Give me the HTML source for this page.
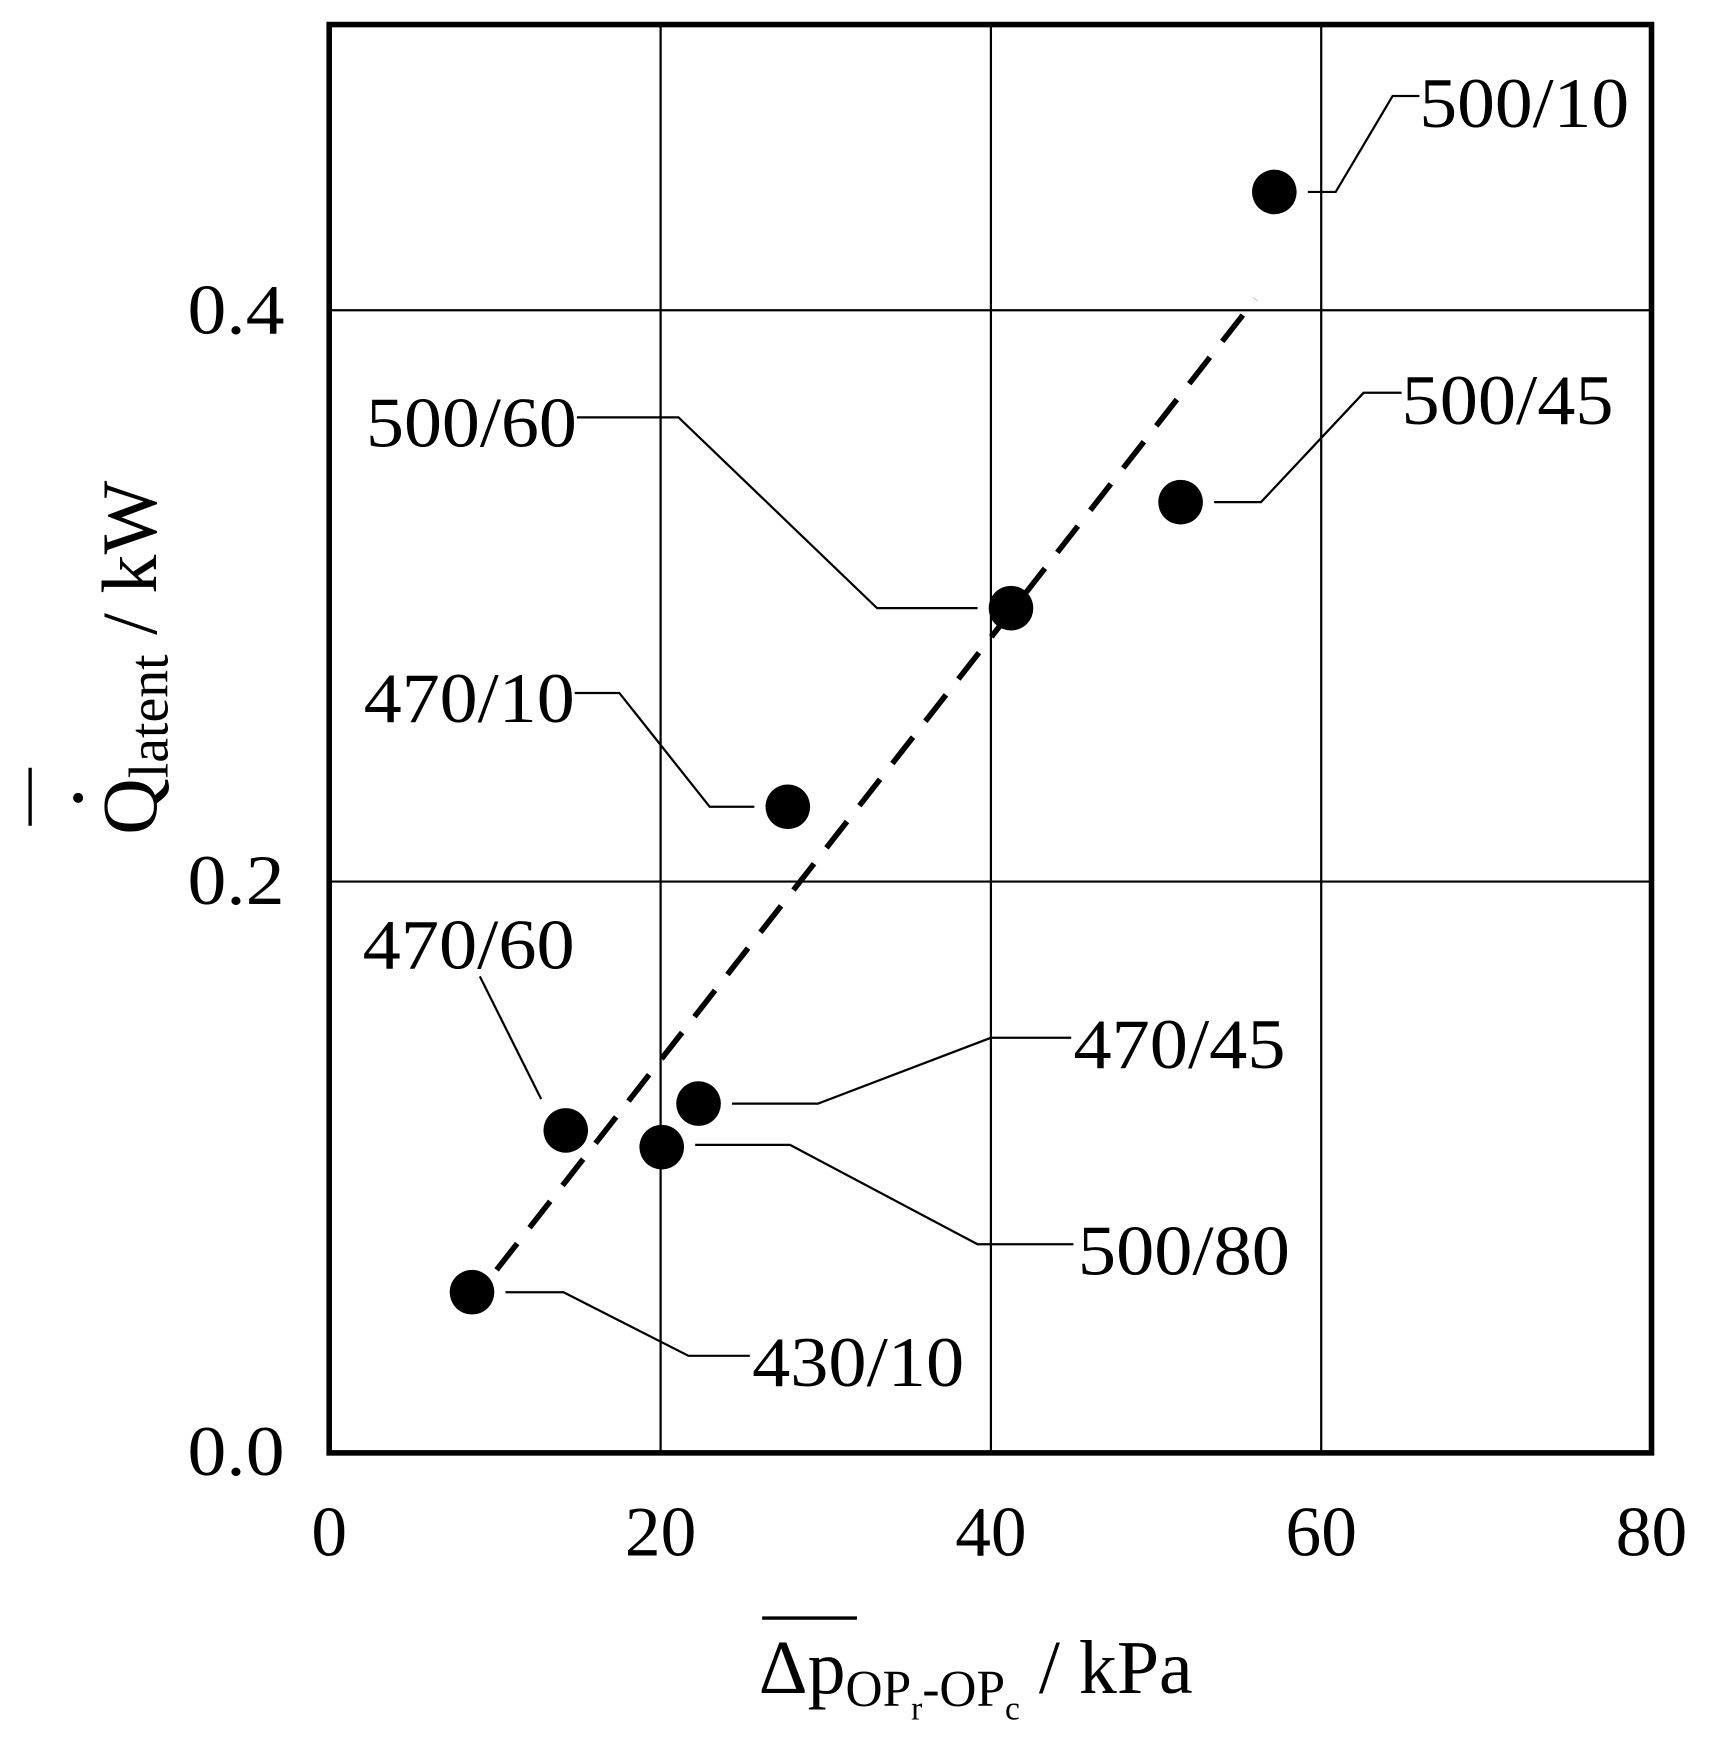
<!DOCTYPE html>
<html><head><meta charset="utf-8"><style>html,body{margin:0;padding:0;background:#fff}svg{display:block}</style></head>
<body>
<svg width="1714" height="1762" viewBox="0 0 1536 1579" xmlns="http://www.w3.org/2000/svg" font-family="Liberation Serif, serif" fill="#000">
<rect x="0" y="0" width="1536" height="1579" fill="#fff"/>
<g stroke="#000" stroke-width="2" fill="none">
<line x1="592" y1="22" x2="592" y2="1302"/>
<line x1="888" y1="22" x2="888" y2="1302"/>
<line x1="1184" y1="22" x2="1184" y2="1302"/>
<line x1="295" y1="278" x2="1480" y2="278"/>
<line x1="295" y1="790" x2="1480" y2="790"/>
</g>
<rect x="295" y="22" width="1185" height="1280" fill="none" stroke="#000" stroke-width="5"/>
<line x1="445" y1="1138" x2="1125" y2="268" stroke="#000" stroke-width="5" stroke-dasharray="30,18"/>
<g stroke="#000" stroke-width="2" fill="none">
<polyline points="1172,172 1197,172 1248,86 1272,86"/>
<polyline points="1088,450 1130,450 1222,352 1256,352"/>
<polyline points="517,374 608,374 786,545 876,545"/>
<polyline points="515,621 555,621 636,723 676,723"/>
<polyline points="430,875 485,985"/>
<polyline points="656,989 733,989 888,930 960,930"/>
<polyline points="623,1026 708,1026 876,1115 962,1115"/>
<polyline points="453,1158 505,1158 617,1215 672,1215"/>
</g>
<g>
<circle cx="1142" cy="172" r="20"/><circle cx="1058" cy="450" r="20"/>
<circle cx="906" cy="545" r="20"/><circle cx="706" cy="723" r="20"/>
<circle cx="626" cy="989" r="20"/><circle cx="507" cy="1013" r="20"/>
<circle cx="593" cy="1028" r="20"/><circle cx="423" cy="1158" r="20"/>
</g>
<g font-size="64">
<text x="1272" y="114" textLength="188" lengthAdjust="spacingAndGlyphs">500/10</text>
<text x="1256" y="380" textLength="190" lengthAdjust="spacingAndGlyphs">500/45</text>
<text x="328" y="400" textLength="189" lengthAdjust="spacingAndGlyphs">500/60</text>
<text x="326" y="647" textLength="189" lengthAdjust="spacingAndGlyphs">470/10</text>
<text x="325" y="868" textLength="190" lengthAdjust="spacingAndGlyphs">470/60</text>
<text x="962" y="957" textLength="190" lengthAdjust="spacingAndGlyphs">470/45</text>
<text x="966" y="1142" textLength="190" lengthAdjust="spacingAndGlyphs">500/80</text>
<text x="674" y="1242" textLength="190" lengthAdjust="spacingAndGlyphs">430/10</text>
<text x="255" y="299" text-anchor="end" textLength="87" lengthAdjust="spacingAndGlyphs">0.4</text>
<text x="255" y="810" text-anchor="end" textLength="87" lengthAdjust="spacingAndGlyphs">0.2</text>
<text x="255" y="1322" text-anchor="end" textLength="87" lengthAdjust="spacingAndGlyphs">0.0</text>
<text x="295" y="1394" text-anchor="middle">0</text>
<text x="592" y="1394" text-anchor="middle">20</text>
<text x="888" y="1394" text-anchor="middle">40</text>
<text x="1184" y="1394" text-anchor="middle">60</text>
<text x="1480" y="1394" text-anchor="middle">80</text>
<text x="680" y="1517" font-size="68">Δp<tspan font-size="46" dy="12">OP</tspan><tspan font-size="30" dy="12">r</tspan><tspan font-size="46" dy="-12">-OP</tspan><tspan font-size="30" dy="12">c</tspan><tspan dy="-24"> / kPa</tspan></text>
<g transform="translate(140,748) rotate(-90)">
<text x="0" y="0" font-size="70">Q<tspan font-size="50" dy="10">latent</tspan><tspan dy="-10"> / kW</tspan></text>
</g>
</g>
<line x1="683" y1="1450" x2="768" y2="1450" stroke="#000" stroke-width="3"/>
<line x1="27" y1="688" x2="27" y2="740" stroke="#000" stroke-width="3"/>
<circle cx="70" cy="715" r="4.5"/>
</svg>
</body></html>
